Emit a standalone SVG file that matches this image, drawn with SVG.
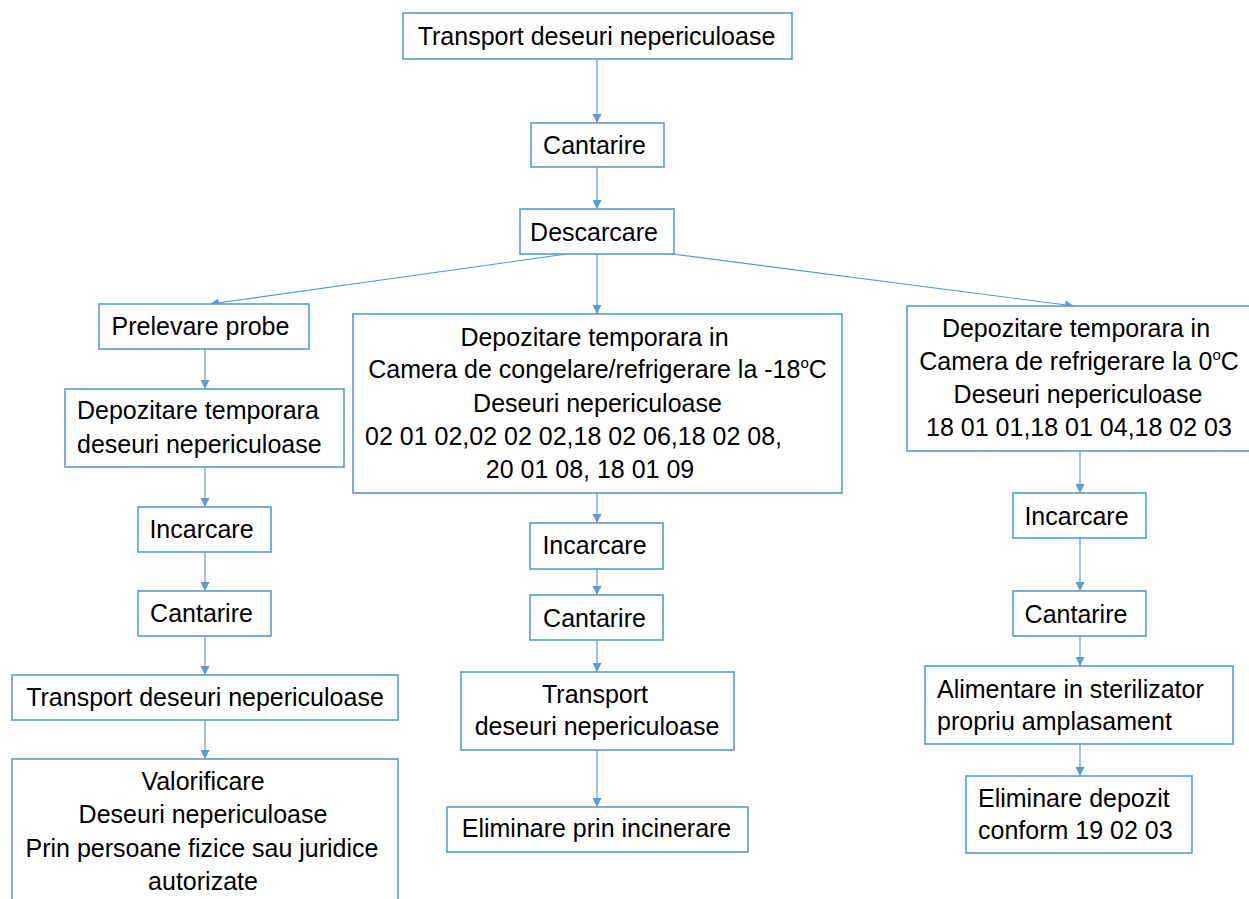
<svg xmlns="http://www.w3.org/2000/svg" width="1249" height="899" viewBox="0 0 1249 899">
<style>
.box{fill:#fff;stroke:#5B9BD5;stroke-width:1.6}
.t{font-family:"Liberation Sans",Arial,sans-serif;font-size:25px;fill:#000}
.c{text-anchor:middle}
.edge{stroke:#5B9BD5;stroke-width:1.2;fill:none;marker-end:url(#arr)}
</style>
<defs>
<marker id="arr" viewBox="0 0 10 10" refX="10" refY="5" markerWidth="9" markerHeight="9" markerUnits="userSpaceOnUse" orient="auto">
<path d="M0,0 L10,5 L0,10 z" fill="#5B9BD5"/>
</marker>
</defs>
<rect width="1249" height="899" fill="#fff"/>
<g id="connectors">
<line class="edge" x1="597" y1="59" x2="597" y2="123"/>
<line class="edge" x1="597" y1="167" x2="597" y2="209"/>
<line class="edge" x1="567" y1="254" x2="210" y2="304"/>
<line class="edge" x1="597" y1="254" x2="597" y2="314"/>
<line class="edge" x1="665" y1="253" x2="1074" y2="306"/>
<line class="edge" x1="205" y1="349" x2="205" y2="389"/>
<line class="edge" x1="205" y1="467" x2="205" y2="507"/>
<line class="edge" x1="205" y1="552" x2="205" y2="591"/>
<line class="edge" x1="205" y1="636" x2="205" y2="675"/>
<line class="edge" x1="205" y1="720" x2="205" y2="759"/>
<line class="edge" x1="597" y1="493" x2="597" y2="523"/>
<line class="edge" x1="597" y1="569" x2="597" y2="595"/>
<line class="edge" x1="597" y1="640" x2="597" y2="672"/>
<line class="edge" x1="597" y1="750" x2="597" y2="807"/>
<line class="edge" x1="1080" y1="451" x2="1080" y2="493"/>
<line class="edge" x1="1080" y1="538" x2="1080" y2="591"/>
<line class="edge" x1="1080" y1="636" x2="1080" y2="666"/>
<line class="edge" x1="1080" y1="744" x2="1080" y2="776"/>
</g>
<g id="n_transport_top">
<rect class="box" x="403" y="13" width="389" height="46"/>
<text class="t c" x="596.5" y="45">Transport deseuri nepericuloase</text>
</g>
<g id="n_cantarire_top">
<rect class="box" x="531" y="123" width="133" height="44"/>
<text class="t c" x="594.5" y="154">Cantarire</text>
</g>
<g id="n_descarcare">
<rect class="box" x="520" y="209" width="154" height="45"/>
<text class="t c" x="594" y="241">Descarcare</text>
</g>
<g id="n_prelevare">
<rect class="box" x="99" y="304" width="210" height="45"/>
<text class="t c" x="200.5" y="335">Prelevare probe</text>
</g>
<g id="n_depozitare_left">
<rect class="box" x="65" y="389" width="279" height="78"/>
<text class="t" x="77" y="419">Depozitare temporara</text>
<text class="t" x="77" y="453">deseuri nepericuloase</text>
</g>
<g id="n_incarcare_left">
<rect class="box" x="138" y="507" width="133" height="45"/>
<text class="t c" x="201.5" y="538">Incarcare</text>
</g>
<g id="n_cantarire_left">
<rect class="box" x="138" y="591" width="133" height="45"/>
<text class="t c" x="201.5" y="622">Cantarire</text>
</g>
<g id="n_transport_left">
<rect class="box" x="12" y="675" width="386" height="45"/>
<text class="t c" x="205" y="706">Transport deseuri nepericuloase</text>
</g>
<g id="n_valorificare">
<rect class="box" x="12" y="759" width="386" height="160"/>
<text class="t c" x="203" y="790">Valorificare</text>
<text class="t c" x="203" y="823">Deseuri nepericuloase</text>
<text class="t c" x="202" y="857">Prin persoane fizice sau juridice</text>
<text class="t c" x="203" y="890">autorizate</text>
</g>
<g id="n_depozitare_mid">
<rect class="box" x="353" y="314" width="489" height="179"/>
<text class="t c" x="594.5" y="346">Depozitare temporara in</text>
<text class="t c" x="597.5" y="378">Camera de congelare/refrigerare la -18<tspan font-size="15" dy="-10">o</tspan><tspan dy="10">C</tspan></text>
<text class="t c" x="597.5" y="412">Deseuri nepericuloase</text>
<text class="t" x="365" y="445">02 01 02,02 02 02,18 02 06,18 02 08,</text>
<text class="t c" x="590" y="478">20 01 08, 18 01 09</text>
</g>
<g id="n_incarcare_mid">
<rect class="box" x="530" y="523" width="133" height="46"/>
<text class="t c" x="594.5" y="554">Incarcare</text>
</g>
<g id="n_cantarire_mid">
<rect class="box" x="530" y="595" width="133" height="45"/>
<text class="t c" x="594.5" y="627">Cantarire</text>
</g>
<g id="n_transport_mid">
<rect class="box" x="461" y="672" width="273" height="78"/>
<text class="t c" x="595" y="703">Transport</text>
<text class="t c" x="597" y="735">deseuri nepericuloase</text>
</g>
<g id="n_incinerare">
<rect class="box" x="447" y="807" width="301" height="45"/>
<text class="t c" x="596.5" y="837">Eliminare prin incinerare</text>
</g>
<g id="n_depozitare_right">
<rect class="box" x="907" y="306" width="346" height="145"/>
<text class="t c" x="1076" y="337">Depozitare temporara in</text>
<text class="t c" x="1079" y="370">Camera de refrigerare la 0<tspan font-size="15" dy="-10">o</tspan><tspan dy="10">C</tspan></text>
<text class="t c" x="1078" y="403">Deseuri nepericuloase</text>
<text class="t c" x="1079" y="436">18 01 01,18 01 04,18 02 03</text>
</g>
<g id="n_incarcare_right">
<rect class="box" x="1013" y="493" width="133" height="45"/>
<text class="t c" x="1076.5" y="525">Incarcare</text>
</g>
<g id="n_cantarire_right">
<rect class="box" x="1013" y="591" width="133" height="45"/>
<text class="t c" x="1076" y="623">Cantarire</text>
</g>
<g id="n_alimentare">
<rect class="box" x="925" y="666" width="308" height="78"/>
<text class="t" x="937" y="698">Alimentare in sterilizator</text>
<text class="t" x="937" y="730">propriu amplasament</text>
</g>
<g id="n_eliminare_depozit">
<rect class="box" x="966" y="776" width="226" height="77"/>
<text class="t" x="978" y="807">Eliminare depozit</text>
<text class="t" x="978" y="839">conform 19 02 03</text>
</g>
</svg>
